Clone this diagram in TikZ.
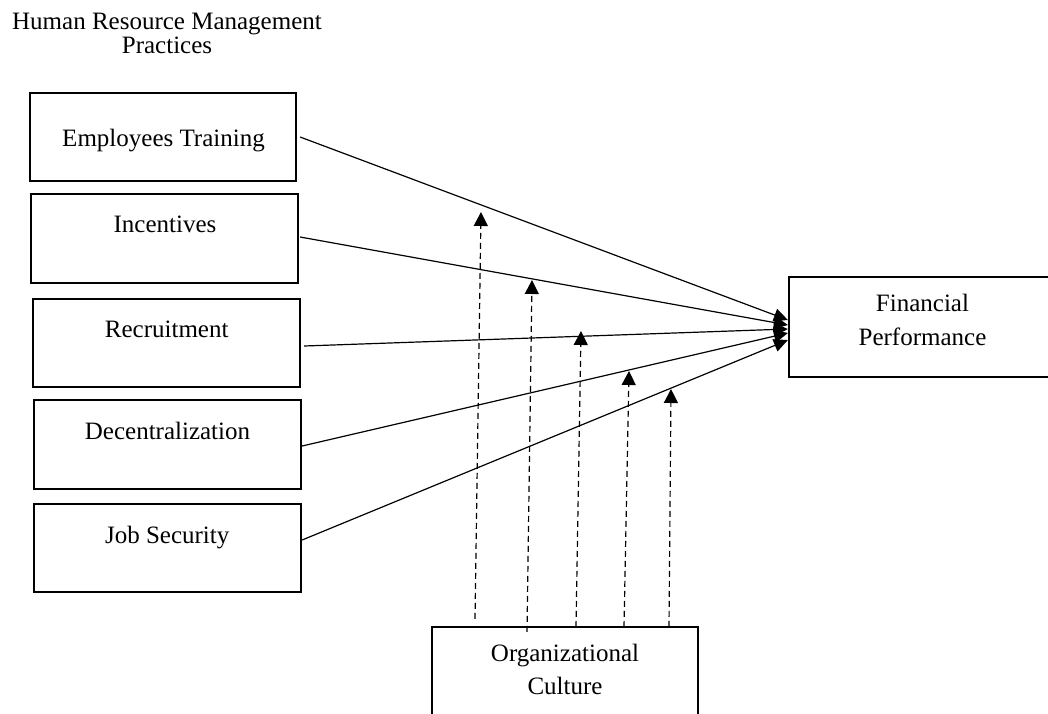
\documentclass[tikz,border=0pt]{standalone}
\usepackage{fontspec}
\setmainfont{Liberation Serif}
\usetikzlibrary{arrows.meta}
\begin{document}
\begin{tikzpicture}[x=1pt,y=-1pt,
  box/.style={draw, line width=2.2pt, rectangle, inner sep=0pt},
  lbl/.style={font=\fontsize{25}{25}\selectfont, inner sep=0pt, anchor=base, align=center},
  link/.style={line width=1.2pt, -{Triangle[length=14pt,width=13pt]}},
  moderator/.style={line width=1.2pt, dash pattern=on 6pt off 4pt,
                    -{Triangle[length=14pt,width=14pt]}}]
  \useasboundingbox (0,0) rectangle (1048,713);
  \fill[white] (0,0) rectangle (1048,713);
  \clip (0,0) rectangle (1048,713);

  % heading of the practices column (anchored at the baseline of its last line)
  \node[lbl, font=\fontsize{25}{24.6}\selectfont] (title) at (167,53.8)
    {Human Resource Management\\Practices};

  % independent variables
  \node[box, minimum width=266, minimum height=88] (et)  at (163,137)   {};
  \node[box, minimum width=267, minimum height=89] (inc) at (164.5,238.5) {};
  \node[box, minimum width=267, minimum height=88] (rec) at (166.5,343) {};
  \node[box, minimum width=267, minimum height=89] (dec) at (167.5,444.5) {};
  \node[box, minimum width=267, minimum height=88] (js)  at (167.5,548) {};

  \node[lbl] (etT)  at (163.5,146.7) {Employees Training};
  \node[lbl] (incT) at (165,232.7)   {Incentives};
  \node[lbl] (recT) at (166.7,337.7) {Recruitment};
  \node[lbl] (decT) at (167.5,439.3) {Decentralization};
  \node[lbl] (jsT)  at (167.2,543.3) {Job Security};

  % dependent variable
  \node[box, minimum width=267, minimum height=100] (fp) at (922.5,327) {};
  \node[lbl, font=\fontsize{25}{34.7}\selectfont] (fpT) at (922.5,345.7)
    {Financial\\Performance};

  % moderator
  \node[box, minimum width=266, minimum height=100] (oc) at (565,677) {};
  \node[lbl, font=\fontsize{25}{33}\selectfont] (ocT) at (565,694)
    {Organizational\\Culture};

  % direct effects
  \draw[link] ([shift={(3,0)}]et.east)    -- ([shift={(0,-7)}]fp.west);
  \draw[link] ([shift={(1,-1.5)}]inc.east) -- ([shift={(0,-2)}]fp.west);
  \draw[link] ([shift={(3,3)}]rec.east)   -- ([shift={(0,2)}]fp.west);
  \draw[link] ([shift={(0,1.5)}]dec.east) -- ([shift={(0,6)}]fp.west);
  \draw[link] ([shift={(0,-8)}]js.east)   -- ([shift={(0,13)}]fp.west);

  % moderating effects
  \coordinate (m1) at (481,212);
  \coordinate (m2) at (532,280);
  \coordinate (m3) at (581,331);
  \coordinate (m4) at (629,371);
  \coordinate (m5) at (671,389);
  \draw[moderator] ([shift={(-90,-7)}]oc.north) -- (m1);
  \draw[moderator] ([shift={(-38,6)}]oc.north)  -- (m2);
  \draw[moderator] ([shift={(11,1)}]oc.north)   -- (m3);
  \draw[moderator] ([shift={(59,1)}]oc.north)   -- (m4);
  \draw[moderator] ([shift={(104,1)}]oc.north)  -- (m5);
\end{tikzpicture}
\end{document}
